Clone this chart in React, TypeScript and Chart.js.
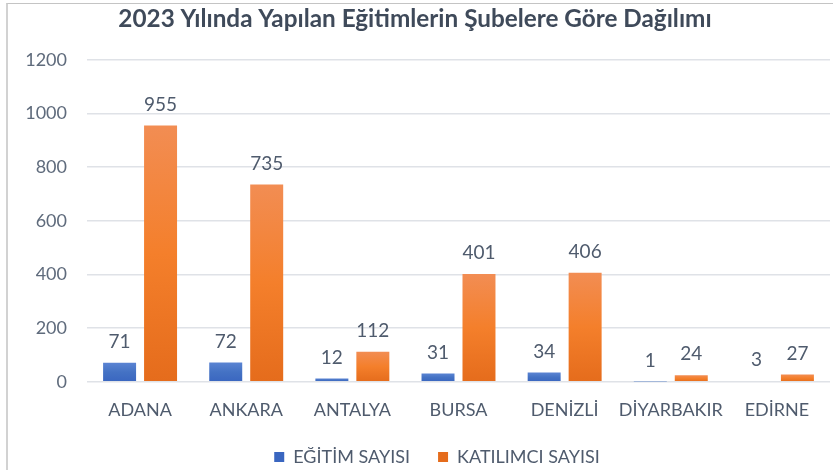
import React, { useEffect, useRef } from "react";
import { Chart, registerables } from "chart.js";

Chart.register(...registerables);

const titleText = "2023 Yılında Yapılan Eğitimlerin Şubelere Göre Dağılımı";
const categories = ["ADANA", "ANKARA", "ANTALYA", "BURSA", "DENİZLİ", "DİYARBAKIR", "EDİRNE"];
const seriesLabels = ["EĞİTİM SAYISI", "KATILIMCI SAYISI"];
const egitimSayisi = [71, 72, 12, 31, 34, 1, 3];
const katilimciSayisi = [955, 735, 112, 401, 406, 24, 27];
const yTicks = [0, 200, 400, 600, 800, 1000, 1200];

const FONT = "Lato";

function gradient(stops: string[], fallback: string) {
  return (ctx: any) => {
    const chart = ctx.chart;
    const y = chart.scales && chart.scales.y;
    if (ctx.type !== "data" || !y || !chart.chartArea) return fallback;
    const top = y.getPixelForValue(ctx.raw as number);
    const bottom = y.getPixelForValue(0);
    if (!isFinite(top) || !isFinite(bottom) || Math.abs(bottom - top) < 1) return fallback;
    const g = chart.ctx.createLinearGradient(0, top, 0, bottom);
    g.addColorStop(0, stops[0]);
    g.addColorStop(0.5, stops[1]);
    g.addColorStop(1, stops[2]);
    return g;
  };
}

const dataLabels = {
  id: "dataLabels",
  afterDatasetsDraw(chart: any) {
    const ctx = chart.ctx;
    ctx.save();
    ctx.font = `19px ${FONT}`;
    ctx.fillStyle = "#4f5b6d";
    ctx.textAlign = "center";
    ctx.textBaseline = "middle";
    chart.data.datasets.forEach((ds: any, i: number) => {
      const meta = chart.getDatasetMeta(i);
      meta.data.forEach((el: any, j: number) => {
        ctx.fillText(String(ds.data[j]), el.x, el.y - 21);
      });
    });
    ctx.restore();
  },
};

const legendPlacement = {
  id: "legendPlacement",
  afterLayout(chart: any) {
    const l = chart.legend;
    if (l) {
      l.top += 6;
      l.bottom += 6;
      l.left += 22;
      l.right += 22;
    }
    const x = chart.scales && chart.scales.x;
    if (x) x.bottom += 12;
  },
};

export default function App() {
  const ref = useRef<HTMLCanvasElement | null>(null);

  useEffect(() => {
    if (!ref.current) return;
    const chart = new Chart(ref.current, {
      type: "bar",
      data: {
        labels: categories,
        datasets: [
          {
            label: seriesLabels[0],
            data: egitimSayisi,
            backgroundColor: gradient(["#5b84d3", "#4472c4", "#3a66c0"], "#4472C4"),
            categoryPercentage: 0.772,
            barPercentage: 0.805,
          },
          {
            label: seriesLabels[1],
            data: katilimciSayisi,
            backgroundColor: gradient(["#f28d53", "#f47f2b", "#e56c1c"], "#ED7D31"),
            categoryPercentage: 0.772,
            barPercentage: 0.805,
          },
        ],
      },
      options: {
        animation: false,
        responsive: false,
        layout: { padding: { left: 0, right: 3, top: 0, bottom: 0 } },
        plugins: {
          title: {
            display: true,
            text: titleText,
            color: "#3f4a5a",
            font: { family: FONT, size: 24.3, weight: "bold" },
            padding: { top: 5, bottom: 25.6 },
          },
          legend: {
            position: "bottom",
            labels: {
              boxWidth: 10,
              boxHeight: 10,
              padding: 28,
              color: "#4f5b6d",
              font: { family: FONT, size: 18 },
            },
          },
          tooltip: { enabled: false },
        },
        scales: {
          x: {
            grid: { display: false, drawTicks: false },
            border: { display: false },
            ticks: {
              color: "#4f5b6d",
              font: { family: FONT, size: 18 },
              padding: 17.5,
              maxRotation: 0,
              minRotation: 0,
              autoSkip: false,
            },
            afterFit: (s: any) => {
              s.height = 32.3;
            },
          },
          y: {
            min: 0,
            max: 1200,
            grid: { color: "#dfe2e7", lineWidth: 1.5, drawTicks: false },
            border: { display: false },
            ticks: {
              color: "#5f6b7c",
              font: { family: FONT, size: 18 },
              padding: 20,
              callback: (v: any) => String(v),
            },
            afterBuildTicks: (s: any) => {
              s.ticks = yTicks.map((v) => ({ value: v }));
            },
            afterFit: (s: any) => {
              s.width = 87;
            },
          },
        },
      },
      plugins: [dataLabels, legendPlacement],
    } as any);
    return () => chart.destroy();
  }, []);

  return (
    <div
      style={{
        position: "absolute",
        left: 0,
        top: 0,
        width: 833,
        height: 470,
        background: "#ffffff",
        overflow: "hidden",
      }}
    >
      <div
        style={{
          position: "absolute",
          left: 6,
          top: 3,
          width: 860,
          height: 500,
          borderLeft: "2px solid #d2d2d2",
          borderTop: "1px solid #c4c4c4",
          boxSizing: "border-box",
        }}
      />
      <canvas
        ref={ref}
        width={833}
        height={470}
        style={{ position: "absolute", left: 0, top: 0 }}
      />
    </div>
  );
}
